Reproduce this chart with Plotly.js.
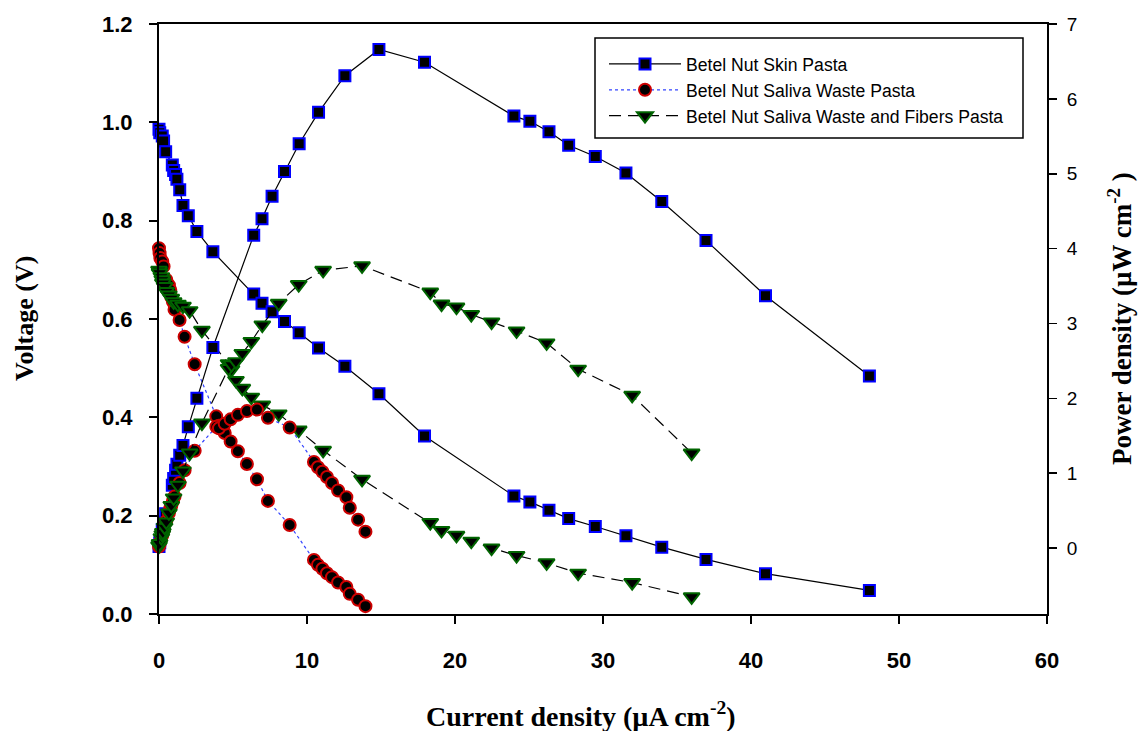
<!DOCTYPE html>
<html>
<head>
<meta charset="utf-8">
<script src="https://cdn.plot.ly/plotly-3.0.1.min.js"></script>
<style>
html,body{margin:0;padding:0;background:#fff;}
#chart{width:1145px;height:731px;}
</style>
</head>
<body>
<div id="chart"></div>
<script>
// ---- Data ----
// Betel Nut Skin Pasta
const skinI = [0, 0.05, 0.22, 0.31, 0.45, 0.9, 0.99, 1.12, 1.21, 1.4, 1.62, 1.98, 2.56, 3.64, 6.4, 6.96, 7.64, 8.48, 9.47, 10.78, 12.56, 14.86, 17.94, 23.98, 25.06, 26.35, 27.68, 29.48, 31.55, 33.97, 36.96, 40.98, 48.0];
const skinV = [0.986, 0.979, 0.972, 0.962, 0.940, 0.913, 0.902, 0.894, 0.884, 0.863, 0.831, 0.810, 0.778, 0.737, 0.651, 0.632, 0.615, 0.595, 0.572, 0.541, 0.504, 0.448, 0.362, 0.240, 0.228, 0.211, 0.194, 0.178, 0.159, 0.136, 0.111, 0.082, 0.048];
const skinP = [0.02, 0.07, 0.25, 0.35, 0.46, 0.84, 0.93, 1.04, 1.12, 1.24, 1.37, 1.62, 2.00, 2.68, 4.18, 4.40, 4.70, 5.03, 5.40, 5.82, 6.31, 6.66, 6.49, 5.77, 5.70, 5.56, 5.38, 5.23, 5.01, 4.63, 4.11, 3.37, 2.30];

// Betel Nut Saliva Waste Pasta
const salI = [0, 0.04, 0.09, 0.22, 0.31, 0.49, 0.67, 0.76, 0.83, 0.94, 1.05, 1.39, 1.73, 2.41, 3.87, 4.05, 4.44, 4.84, 5.33, 5.94, 6.62, 7.36, 8.83, 10.47, 10.74, 11.04, 11.35, 11.69, 12.1, 12.66, 12.89, 13.45, 13.95];
const salV = [0.744, 0.734, 0.724, 0.717, 0.707, 0.680, 0.669, 0.659, 0.645, 0.635, 0.619, 0.598, 0.564, 0.508, 0.402, 0.383, 0.368, 0.351, 0.331, 0.305, 0.274, 0.230, 0.181, 0.110, 0.100, 0.092, 0.083, 0.075, 0.064, 0.055, 0.041, 0.029, 0.016];
const salP = [0.02, 0.05, 0.09, 0.17, 0.24, 0.36, 0.47, 0.53, 0.57, 0.63, 0.69, 0.87, 1.04, 1.30, 1.62, 1.60, 1.66, 1.72, 1.78, 1.83, 1.85, 1.74, 1.61, 1.15, 1.08, 1.02, 0.95, 0.87, 0.77, 0.68, 0.54, 0.38, 0.22];

// Betel Nut Saliva Waste and Fibers Pasta
const fibI = [0, 0.04, 0.16, 0.22, 0.26, 0.38, 0.49, 0.67, 0.83, 0.99, 1.28, 1.62, 2.07, 2.9, 4.7, 4.9, 5.2, 5.63, 6.24, 6.98, 8.09, 9.44, 11.09, 13.72, 18.33, 19.09, 20.1, 21.1, 22.47, 24.16, 26.19, 28.32, 31.97, 35.99];
const fibV = [0.699, 0.694, 0.686, 0.680, 0.673, 0.666, 0.656, 0.649, 0.642, 0.635, 0.630, 0.626, 0.617, 0.577, 0.509, 0.497, 0.475, 0.459, 0.441, 0.425, 0.407, 0.374, 0.333, 0.274, 0.186, 0.170, 0.160, 0.148, 0.134, 0.119, 0.104, 0.083, 0.064, 0.035];
const fibP = [0.03, 0.06, 0.14, 0.18, 0.21, 0.28, 0.35, 0.47, 0.57, 0.67, 0.84, 1.03, 1.27, 1.67, 2.40, 2.45, 2.49, 2.60, 2.76, 2.98, 3.27, 3.52, 3.71, 3.77, 3.42, 3.26, 3.22, 3.12, 3.02, 2.90, 2.74, 2.39, 2.04, 1.27];

const seriesNames = ["Betel Nut Skin Pasta", "Betel Nut Saliva Waste Pasta", "Betel Nut Saliva Waste and Fibers Pasta"];
const xTicks = [0, 10, 20, 30, 40, 50, 60];
const yTicks = [0, 0.2, 0.4, 0.6, 0.8, 1.0, 1.2];
const y2Ticks = [0, 1, 2, 3, 4, 5, 6, 7];

// ---- Styles ----
const SANS = "'Liberation Sans', Arial, sans-serif";
const SERIF = "'Liberation Serif', 'Times New Roman', serif";

const styles = [
  {line: {color: '#000000', width: 1.2, dash: 'solid'},
   marker: {symbol: 'square', size: 11, color: '#000000', line: {color: '#0000ff', width: 2}}},
  {line: {color: '#3344ff', width: 1.2, dash: 'dot'},
   marker: {symbol: 'circle', size: 12, color: '#000000', line: {color: '#cc0000', width: 2}}},
  {line: {color: '#000000', width: 1.2, dash: '12px,7px'},
   marker: {symbol: 'triangle-down', size: 14, color: '#000000', line: {color: '#006400', width: 2}}}
];

const sets = [[skinI, skinV, skinP], [salI, salV, salP], [fibI, fibV, fibP]];
const traces = [];
sets.forEach((s, k) => {
  traces.push({
    x: s[0], y: s[2], yaxis: 'y2', type: 'scatter', mode: 'lines+markers',
    name: seriesNames[k], legendgroup: 'g' + k, showlegend: false,
    line: styles[k].line, marker: styles[k].marker, cliponaxis: false
  });
});
sets.forEach((s, k) => {
  traces.push({
    x: s[0], y: s[1], yaxis: 'y', type: 'scatter', mode: 'lines+markers',
    name: seriesNames[k], legendgroup: 'g' + k, showlegend: true,
    line: styles[k].line, marker: styles[k].marker, cliponaxis: false
  });
});

// plot area in px
const L = 159, R = 1047, T = 24, B = 614;
const W = 1145, H = 731;
const px2x = p => (p - L) / (R - L);
const py2y = p => (B - p) / (B - T);

const layout = {
  width: W, height: H,
  margin: {l: L, r: W - R, t: T, b: H - B, pad: 0},
  paper_bgcolor: '#ffffff', plot_bgcolor: '#ffffff',
  showlegend: true,
  legend: {
    x: px2x(604), y: py2y(46), xanchor: 'left', yanchor: 'top',
    bgcolor: 'rgba(0,0,0,0)', borderwidth: 0,
    font: {family: SANS, size: 17.6, color: '#000'},
    itemwidth: 72, tracegroupgap: 0, itemclick: false
  },
  xaxis: {
    range: [0, 60], tickvals: xTicks, ticktext: xTicks.map(String),
    showline: true, linecolor: '#000', linewidth: 2, mirror: true,
    ticks: 'outside', ticklen: 8, tickwidth: 2, tickcolor: '#000',
    showgrid: false, zeroline: false,
    tickfont: {family: SANS, size: 22, weight: 'bold', color: '#000'},
    ticklabelstandoff: 18
  },
  yaxis: {
    range: [0, 1.2], tickvals: yTicks, ticktext: yTicks.map(v => v.toFixed(1)),
    showline: true, linecolor: '#000', linewidth: 2,
    ticks: 'outside', ticklen: 8, tickwidth: 2, tickcolor: '#000',
    showgrid: false, zeroline: false,
    tickfont: {family: SANS, size: 22, weight: 'bold', color: '#000'},
    ticklabelstandoff: 12
  },
  yaxis2: {
    range: [-0.88, 7], tickvals: y2Ticks, ticktext: y2Ticks.map(String),
    overlaying: 'y', side: 'right',
    showline: true, linecolor: '#000', linewidth: 2,
    ticks: 'outside', ticklen: 8, tickwidth: 1.5, tickcolor: '#000',
    showgrid: false, zeroline: false,
    tickfont: {family: SANS, size: 19, color: '#000'},
    ticklabelstandoff: 6
  },
  shapes: [{
    type: 'rect', xref: 'paper', yref: 'paper',
    x0: px2x(595), x1: px2x(1023), y0: py2y(138), y1: py2y(38),
    line: {color: '#000', width: 1.5}, fillcolor: 'rgba(0,0,0,0)', layer: 'above'
  }],
  annotations: [
    {text: 'Voltage (V)', xref: 'paper', yref: 'paper', x: px2x(24), y: 0.5,
     xanchor: 'center', yanchor: 'middle', textangle: -90, showarrow: false,
     font: {family: SERIF, size: 26, weight: 'bold', color: '#000'}},
    {text: 'Power density (µW cm<sup>-2</sup> )', xref: 'paper', yref: 'paper', x: px2x(1120), y: 0.5,
     xanchor: 'center', yanchor: 'middle', textangle: -90, showarrow: false,
     font: {family: SERIF, size: 27, weight: 'bold', color: '#000'}},
    {text: 'Current density (µA cm<sup>-2</sup>)', xref: 'paper', yref: 'paper', x: px2x(581), y: py2y(714),
     xanchor: 'center', yanchor: 'middle', showarrow: false,
     font: {family: SERIF, size: 28, weight: 'bold', color: '#000'}}
  ]
};

Plotly.newPlot('chart', traces, layout, {displayModeBar: false, staticPlot: true});
</script>
</body>
</html>
